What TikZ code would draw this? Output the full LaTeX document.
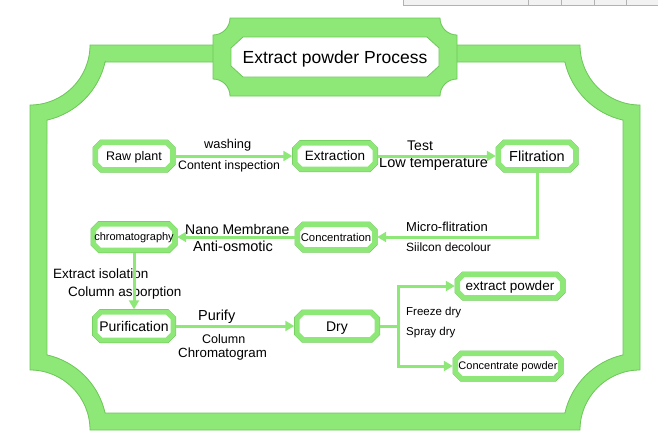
\documentclass[tikz,border=0pt]{standalone}
\usepackage{fontspec}
\setmainfont{Liberation Sans}
\usepackage{tikz}
\usetikzlibrary{arrows.meta}
\definecolor{boxgreen}{RGB}{142,232,120}
\definecolor{edgegreen}{RGB}{108,198,88}

\begin{document}
\begin{tikzpicture}[x=1pt,y=-1pt,
  framefill/.style={fill=boxgreen, draw=edgegreen, line width=0.8pt},
  boxline/.style={preaction={draw=edgegreen, line width=6pt}, draw=boxgreen, line width=5pt, fill=white},
  boxtext/.style={inner sep=0pt, text depth=0pt},
  lbl/.style={inner sep=0pt, anchor=base west},
  flow/.style={draw=boxgreen, line width=3pt, -{Triangle[length=9pt,width=10pt]}},
  flowline/.style={draw=boxgreen, line width=3pt}]

  \useasboundingbox (0,0) rectangle (658,440);

  %frame
  \filldraw[framefill, even odd rule]
     (90,45) -- (580,45) arc[start angle=180, end angle=90, radius=60]
     -- (640,370) arc[start angle=270, end angle=180, radius=60]
     -- (90,430) arc[start angle=0, end angle=-90, radius=60]
     -- (30,105) arc[start angle=90, end angle=0, radius=60] -- cycle
     (105.1,62) -- (564.9,62) arc[start angle=167.25, end angle=102.75, radius=77]
     -- (623,354.9) arc[start angle=257.25, end angle=192.75, radius=77]
     -- (105.1,413) arc[start angle=-12.75, end angle=-77.25, radius=77]
     -- (47,120.1) arc[start angle=77.25, end angle=12.75, radius=77] -- cycle;

  %title
  \filldraw[framefill] (230,18) -- (440,18) arc[start angle=180, end angle=90, radius=17]
     -- (457,79) arc[start angle=270, end angle=180, radius=17]
     -- (230,96) arc[start angle=0, end angle=-90, radius=17]
     -- (213,35) arc[start angle=90, end angle=0, radius=17] -- cycle;
  \filldraw[fill=white, draw=edgegreen, line width=0.8pt] (243,37) -- (427,37) -- (439,48) -- (439,66)
     -- (427,77) -- (243,77) -- (231,66) -- (231,48) -- cycle;
  \node[anchor=base] (title) at (335,63) {\fontsize{17.5}{20}\selectfont Extract powder Process};

  %grey strip on the top edge
  \draw[gray!60, fill=gray!10] (403,-2) rectangle (660,5);
  \foreach \x in {528,561,594,626} \draw[gray!60] (\x,-2) -- (\x,5);

  %boxes
  \def\ch{6};
  \foreach \name/\x/\y/\w/\h/\fs/\txt in {raw/134/156/82/32/12.5/Raw plant, extr/335/156/85/31/13.5/Extraction,
        flit/537/156/82/32/14.5/Flitration, conc/336/237/82/30/11.3/Concentration,
        chrom/134/237/86/31/11/chromatography, purif/134/326/83/33/14/Purification,
        dry/337/326/85/32/14/Dry, expow/510/286/110/28/13.5/extract powder,
        conpow/508/366/110/30/11/Concentrate powder}{
     \pgfmathsetmacro\hw{\w/2-2.5}
     \pgfmathsetmacro\hh{\h/2-2.5}
     \filldraw[boxline] (\x-\hw+\ch,\y-\hh) -- (\x+\hw-\ch,\y-\hh) -- (\x+\hw,\y-\hh+\ch) -- (\x+\hw,\y+\hh-\ch)
        -- (\x+\hw-\ch,\y+\hh) -- (\x-\hw+\ch,\y+\hh) -- (\x-\hw,\y+\hh-\ch) -- (\x-\hw,\y-\hh+\ch) -- cycle;
     \node[boxtext, minimum width=\w, minimum height=\h, font=\fontsize{\fs}{\fs}\selectfont, text height={0.72*\fs}] (\name) at (\x,\y) {\txt};
  }

  %labels
  \foreach \name/\x/\y/\fs/\txt in {lwash/204/148/12.8/washing, lcont/178/169/12.3/Content inspection,
        ltest/407/150/14/Test, llow/379/167/14.5/Low temperature,
        lmicro/406/231/13/Micro-flitration, lsilicon/406/251/12/Siilcon decolour,
        lnano/185/234/14/Nano Membrane, lanti/193/251/14.5/Anti-osmotic,
        lisol/53/278/13.5/Extract isolation, lasb/68/296/13.5/Column asborption,
        lpurify/198/320/14.5/Purify, lcolumn/202/343/12.5/Column, lchrom/178/357/13.3/Chromatogram,
        lfreeze/406/315/11.5/Freeze dry, lspray/406/335/11.5/Spray dry}{
     \node[lbl, font=\fontsize{\fs}{\fs}\selectfont] (\name) at (\x,\y) {\txt};
  }

  %connectors
  \coordinate (split) at (398,326);
  \draw[flow] (raw) -- (extr);
  \draw[flow] (extr) -- (flit);
  \draw[flow] (flit.south) |- (conc.east);
  \draw[flow] (conc) -- (chrom);
  \draw[flow] (chrom.south) -- (chrom.south |- purif.north);
  \draw[flow] (purif) -- (dry);
  \draw[flowline] (dry) -- (split);
  \draw[flow] (split) |- (expow.west);
  \draw[flow] (split) |- (conpow.west);

\end{tikzpicture}
\end{document}
